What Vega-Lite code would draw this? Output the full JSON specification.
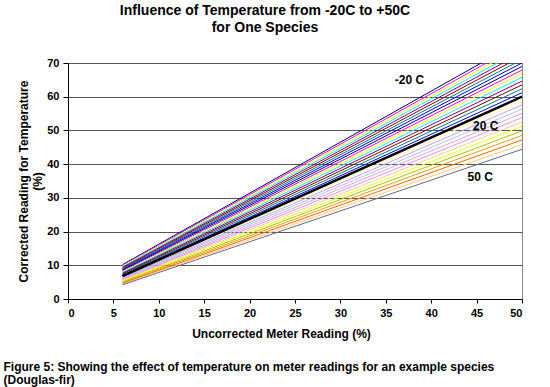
{
  "$schema": "https://vega.github.io/schema/vega-lite/v6.json",
  "background": "white",
  "padding": {"left": 3, "top": 3, "right": 5, "bottom": 5},
  "config": {
    "font": "Liberation Sans",
    "view": {"stroke": "#888888", "strokeWidth": 1},
    "axis": {"labelFont": "Liberation Sans", "titleFont": "Liberation Sans", "labelFontWeight": "bold", "titleFontWeight": "bold", "labelColor": "black", "titleColor": "black", "domainColor": "black", "tickColor": "black", "labelOverlap": false}
  },
  "title": {
    "text": ["Figure 5:  Showing the effect of temperature on meter readings for an example species", "(Douglas-fir)"],
    "orient": "bottom",
    "anchor": "start",
    "fontSize": 12,
    "fontWeight": "bold",
    "font": "Liberation Sans",
    "color": "black",
    "lineHeight": 13.5,
    "dx": -13,
    "offset": 22
  },
  "datasets": {
    "lines": [
      {"t": -20, "x": 6, "y": 10.2}, {"t": -20, "x": 50, "y": 76.8},
      {"t": -17.5, "x": 6, "y": 9.99}, {"t": -17.5, "x": 50, "y": 75.88},
      {"t": -15, "x": 6, "y": 9.78}, {"t": -15, "x": 50, "y": 74.95},
      {"t": -12.5, "x": 6, "y": 9.57}, {"t": -12.5, "x": 50, "y": 74.0},
      {"t": -10, "x": 6, "y": 9.36}, {"t": -10, "x": 50, "y": 73.03},
      {"t": -7.5, "x": 6, "y": 9.15}, {"t": -7.5, "x": 50, "y": 72.04},
      {"t": -5, "x": 6, "y": 8.93}, {"t": -5, "x": 50, "y": 71.03},
      {"t": -2.5, "x": 6, "y": 8.72}, {"t": -2.5, "x": 50, "y": 70.01},
      {"t": 0, "x": 6, "y": 8.51}, {"t": 0, "x": 50, "y": 68.97},
      {"t": 2.5, "x": 6, "y": 8.3}, {"t": 2.5, "x": 50, "y": 67.91},
      {"t": 5, "x": 6, "y": 8.09}, {"t": 5, "x": 50, "y": 66.83},
      {"t": 7.5, "x": 6, "y": 7.87}, {"t": 7.5, "x": 50, "y": 65.74},
      {"t": 10, "x": 6, "y": 7.66}, {"t": 10, "x": 50, "y": 64.63},
      {"t": 12.5, "x": 6, "y": 7.44}, {"t": 12.5, "x": 50, "y": 63.5},
      {"t": 15, "x": 6, "y": 7.22}, {"t": 15, "x": 50, "y": 62.35},
      {"t": 17.5, "x": 6, "y": 7.01}, {"t": 17.5, "x": 50, "y": 61.18},
      {"t": 20, "x": 6, "y": 6.8}, {"t": 20, "x": 50, "y": 60.0},
      {"t": 22.5, "x": 6, "y": 6.59}, {"t": 22.5, "x": 50, "y": 58.8},
      {"t": 25, "x": 6, "y": 6.37}, {"t": 25, "x": 50, "y": 57.58},
      {"t": 27.5, "x": 6, "y": 6.15}, {"t": 27.5, "x": 50, "y": 56.34},
      {"t": 30, "x": 6, "y": 5.94}, {"t": 30, "x": 50, "y": 55.08},
      {"t": 32.5, "x": 6, "y": 5.72}, {"t": 32.5, "x": 50, "y": 53.81},
      {"t": 35, "x": 6, "y": 5.51}, {"t": 35, "x": 50, "y": 52.52},
      {"t": 37.5, "x": 6, "y": 5.29}, {"t": 37.5, "x": 50, "y": 51.21},
      {"t": 40, "x": 6, "y": 5.07}, {"t": 40, "x": 50, "y": 49.88},
      {"t": 42.5, "x": 6, "y": 4.85}, {"t": 42.5, "x": 50, "y": 48.54},
      {"t": 45, "x": 6, "y": 4.64}, {"t": 45, "x": 50, "y": 47.18},
      {"t": 47.5, "x": 6, "y": 4.42}, {"t": 47.5, "x": 50, "y": 45.8},
      {"t": 50, "x": 6, "y": 4.2}, {"t": 50, "x": 50, "y": 44.4}
    ],
    "labels": [
      {"label": "-20 C", "x": 37.6, "y": 65.0},
      {"label": "20 C", "x": 46.0, "y": 51.3},
      {"label": "50 C", "x": 45.4, "y": 36.2}
    ]
  },
  "vconcat": [
    {
      "width": 454,
      "height": 236,
      "title": {
        "text": ["Influence of Temperature from -20C to +50C", "for One Species"],
        "anchor": "middle",
        "frame": "group",
        "fontSize": 14,
        "fontWeight": "bold",
        "font": "Liberation Sans",
        "color": "black",
        "lineHeight": 17,
        "dx": -30,
        "offset": 22
      },
      "encoding": {
        "x": {"field": "x", "type": "quantitative", "scale": {"domain": [0, 50], "nice": false},
          "axis": {"values": [0,5,10,15,20,25,30,35,40,45,50], "grid": false, "title": "Uncorrected Meter Reading (%)", "titleFontSize": 12, "labelFontSize": 11, "tickSize": 4, "labelPadding": 4, "titlePadding": 10, "titleX": 213}},
        "y": {"field": "y", "type": "quantitative", "scale": {"domain": [0, 70], "nice": false},
          "axis": {"values": [0,10,20,30,40,50,60,70], "grid": true, "gridColor": "#555555", "gridOpacity": 1, "title": ["Corrected Reading for Temperature", "(%)"], "titleFontSize": 12, "titleLineHeight": 14, "titleX": -38, "labelFontSize": 11, "tickSize": 5, "labelPadding": 4, "titlePadding": 2}}
      },
      "layer": [
        {
          "data": {"name": "lines"},
          "transform": [{"filter": "datum.t != 20"}],
          "mark": {"type": "line", "clip": true, "strokeWidth": 1},
          "encoding": {
            "color": {"field": "t", "type": "ordinal", "legend": null,
              "scale": {
                "domain": [-20, -17.5, -15, -12.5, -10, -7.5, -5, -2.5, 0, 2.5, 5, 7.5, 10, 12.5, 15, 17.5, 22.5, 25, 27.5, 30, 32.5, 35, 37.5, 40, 42.5, 45, 47.5, 50],
                "range": ["#000080", "#FF00FF", "#FFFF00", "#00FFFF", "#800080", "#800000", "#008080", "#0000FF", "#000080", "#FF00FF", "#FFFF00", "#00FFFF", "#800080", "#800000", "#008080", "#0000FF", "#FFFF99", "#CC99FF", "#99CCFF", "#FF99CC", "#CC99FF", "#FFCC99", "#FFFF00", "#99CC00", "#FF9900", "#FF6600", "#FFCC66", "#666699"]
              }}
          }
        },
        {
          "data": {"name": "lines"},
          "transform": [{"filter": "datum.t == 20"}],
          "mark": {"type": "line", "clip": true, "strokeWidth": 2.5, "color": "black"},
          "encoding": {}
        },
        {
          "data": {"name": "labels"},
          "mark": {"type": "text", "fontSize": 12, "fontWeight": "bold", "font": "Liberation Sans", "color": "black", "align": "center", "baseline": "middle"},
          "encoding": {
            "text": {"field": "label"}
          }
        }
      ]
    }
  ]
}
